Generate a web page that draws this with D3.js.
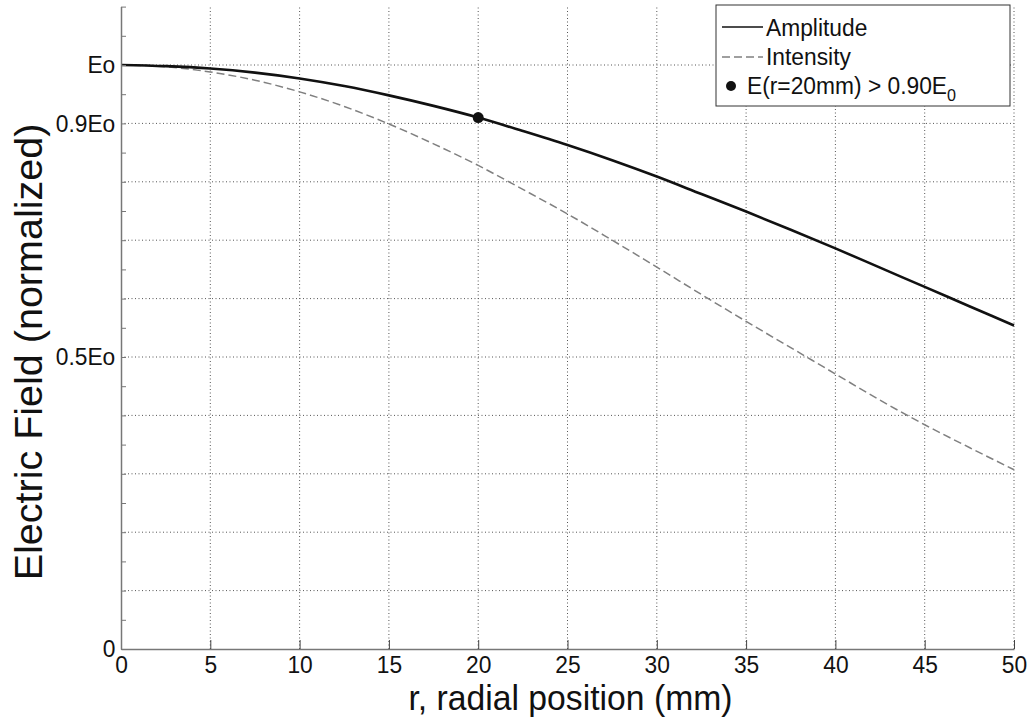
<!DOCTYPE html>
<html>
<head>
<meta charset="utf-8">
<script src="https://cdn.jsdelivr.net/npm/d3@7"></script>
<style>
  html, body { margin: 0; padding: 0; background: #fff; }
  svg { display: block; font-family: "Liberation Sans", Arial, sans-serif; }
</style>
</head>
<body>
<svg id="chart" width="1031" height="720"></svg>
<script>
// ---- data ----
const radius = [0, 2.5, 5, 7.5, 10, 12.5, 15, 17.5, 20, 22.5, 25, 27.5, 30, 32.5, 35, 37.5, 40, 42.5, 45, 47.5, 50];
const amplitude = [1.000, 0.998, 0.994, 0.987, 0.977, 0.964, 0.948, 0.930, 0.910, 0.887, 0.863, 0.837, 0.809, 0.779, 0.749, 0.718, 0.686, 0.653, 0.620, 0.587, 0.554];
const intensity = [1.000, 0.997, 0.988, 0.974, 0.954, 0.929, 0.899, 0.865, 0.828, 0.787, 0.745, 0.700, 0.654, 0.607, 0.561, 0.516, 0.471, 0.426, 0.384, 0.345, 0.307];
const markerPoint = [{ r: 20, e: 0.91 }];
const xTicks = [0, 5, 10, 15, 20, 25, 30, 35, 40, 45, 50];
const yTickValues = [0, 0.5, 0.9, 1.0];
const yTickLabels = ["0", "0.5Eo", "0.9Eo", "Eo"];
const yGridValues = [0.1, 0.2, 0.3, 0.4, 0.5, 0.6, 0.7, 0.8, 0.9, 1.0];
const yMinorTicks = d3.range(0, 1.1001, 0.05);
const legendLabels = ["Amplitude", "Intensity", "E(r=20mm) > 0.90E"];
const xLabel = "r, radial position (mm)";
const yLabel = "Electric Field (normalized)";

// ---- layout ----
const svg = d3.select("#chart");
const L = 121, R = 1014, B = 649, T = 6.6;
const x = d3.scaleLinear().domain([0, 50]).range([L, R]);
const y = d3.scaleLinear().domain([0, 1.1]).range([B, T]);
const SX = 0.95;

// grid
const grid = svg.append("g").attr("stroke", "#555").attr("stroke-width", 1).attr("stroke-dasharray", "1,2.5");
grid.selectAll("line.v").data(xTicks.filter(d => d > 0)).join("line")
  .attr("x1", d => x(d)).attr("x2", d => x(d)).attr("y1", B).attr("y2", T);
grid.selectAll("line.h").data(yGridValues).join("line")
  .attr("x1", L).attr("x2", R).attr("y1", d => y(d)).attr("y2", d => y(d));

// curves
const rows = radius.map((r, i) => ({ r, a: amplitude[i], s: intensity[i] }));
const lineA = d3.line().x(d => x(d.r)).y(d => y(d.a)).curve(d3.curveMonotoneX);
const lineI = d3.line().x(d => x(d.r)).y(d => y(d.s)).curve(d3.curveMonotoneX);
svg.append("path").datum(rows).attr("d", lineI).attr("fill", "none")
  .attr("stroke", "#808080").attr("stroke-width", 1.5).attr("stroke-dasharray", "8,4");
svg.append("path").datum(rows).attr("d", lineA).attr("fill", "none")
  .attr("stroke", "#111").attr("stroke-width", 2.6);
svg.selectAll("circle.pt").data(markerPoint).join("circle")
  .attr("cx", d => x(d.r)).attr("cy", d => y(d.e)).attr("r", 5.5).attr("fill", "#111");

// axes
const xAxis = svg.append("g").attr("transform", `translate(0,${B})`)
  .call(d3.axisBottom(x).tickValues(xTicks).tickSize(-9).tickPadding(7).tickSizeOuter(0));
xAxis.select(".domain").attr("stroke", "#777").attr("stroke-width", 1.5);
xAxis.selectAll(".tick line").attr("stroke", "#444");
xAxis.selectAll(".tick text").attr("font-size", 24).attr("fill", "#111")
  .attr("font-family", "Liberation Sans, Arial, sans-serif")
  .attr("transform", `scale(${SX},1)`);

const yMinor = svg.append("g").attr("transform", `translate(${L},0)`)
  .call(d3.axisLeft(y).tickValues(yMinorTicks).tickSize(-5).tickFormat("").tickSizeOuter(0));
yMinor.select(".domain").attr("stroke", "#777").attr("stroke-width", 1.5);
yMinor.selectAll(".tick line").attr("stroke", "#777");

const yAxis = svg.append("g").attr("transform", `translate(${L},0)`)
  .call(d3.axisLeft(y).tickValues(yTickValues).tickSize(0).tickPadding(6)
    .tickFormat((d, i) => yTickLabels[i]));
yAxis.select(".domain").remove();
yAxis.selectAll(".tick text").attr("font-size", 24).attr("fill", "#111")
  .attr("font-family", "Liberation Sans, Arial, sans-serif")
  .attr("transform", `scale(${SX},1)`);

// axis titles
svg.append("text").attr("transform", `translate(${(L + R) / 2 + 3},710) scale(${SX},1)`)
  .attr("text-anchor", "middle").attr("font-size", 35.5).attr("fill", "#111").text(xLabel);
svg.append("text").attr("transform", `translate(42,352) rotate(-90)`)
  .attr("text-anchor", "middle").attr("font-size", 39.5).attr("fill", "#111").text(yLabel);

// legend
const lg = svg.append("g");
lg.append("rect").attr("x", 716).attr("y", 5).attr("width", 294).attr("height", 101)
  .attr("fill", "#fff").attr("stroke", "#333").attr("stroke-width", 1);
lg.append("line").attr("x1", 722).attr("x2", 763).attr("y1", 27).attr("y2", 27)
  .attr("stroke", "#111").attr("stroke-width", 1.5);
lg.append("line").attr("x1", 722).attr("x2", 763).attr("y1", 57).attr("y2", 57)
  .attr("stroke", "#808080").attr("stroke-width", 1.5).attr("stroke-dasharray", "8,4");
lg.append("circle").attr("cx", 731).attr("cy", 86).attr("r", 5).attr("fill", "#111");
const lt = [[766, 36], [766, 65], [747, 94]];
legendLabels.forEach((t, i) => {
  const txt = lg.append("text").attr("transform", `translate(${lt[i][0]},${lt[i][1]}) scale(${SX},1)`)
    .attr("font-size", 24).attr("fill", "#111").text(t);
  if (i === 2) txt.append("tspan").attr("font-size", 17).attr("dy", 7).text("0");
});
</script>
</body>
</html>
